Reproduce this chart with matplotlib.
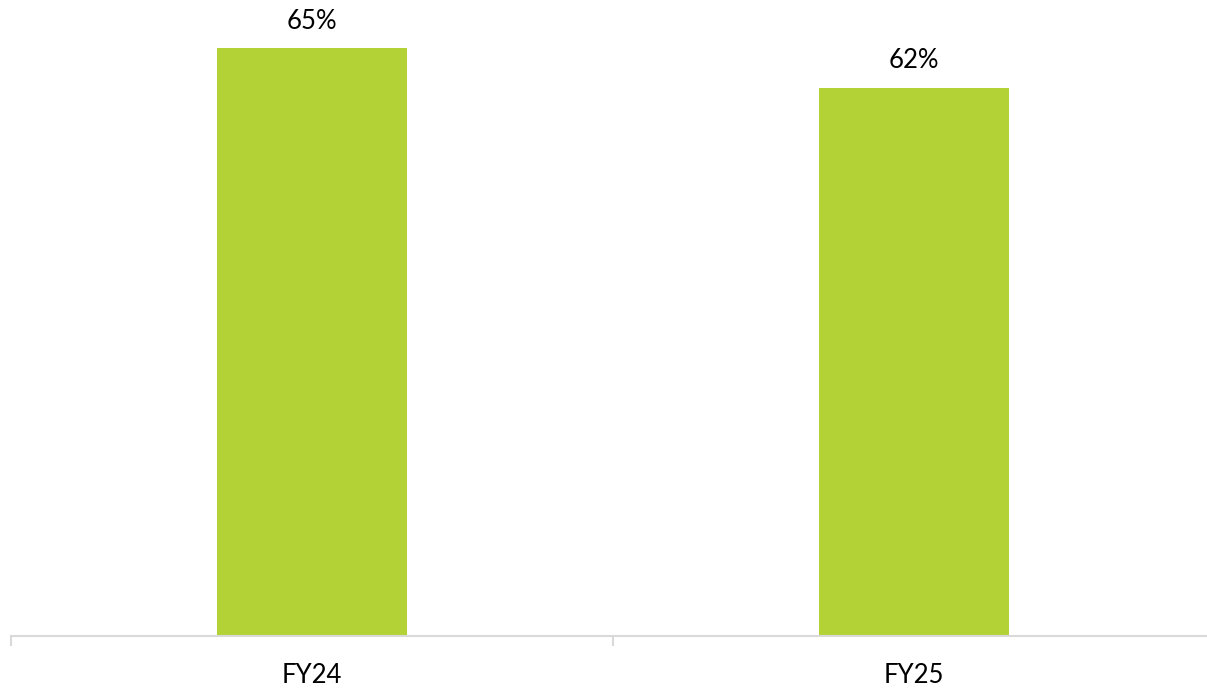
import matplotlib
matplotlib.use("Agg")
import matplotlib.pyplot as plt

categories = ["FY24", "FY25"]
values = [65, 62]
labels = ["65%", "62%"]

plt.rcParams['font.family'] = ['Lato', 'DejaVu Sans']

fig = plt.figure(figsize=(12.07, 6.88), dpi=100)
ax = fig.add_axes([11 / 1207, (688 - 635.5) / 688, 1204 / 1207, 635.5 / 688])

x = list(range(len(categories)))
bars = ax.bar(x, values, width=190 / 602, color="#B2D235", zorder=2)

for xi, v, lab in zip(x, values, labels):
    ax.annotate(lab, (xi, v), xytext=(0, 14), textcoords="offset points",
                ha="center", va="baseline", fontsize=18.5, color="#000000")

ax.set_xlim(-0.5, len(categories) - 0.5)
ax.set_ylim(20.9, 68.6)

# category boundaries get the small gray ticks, centers get the labels
ax.set_xticks([i - 0.5 for i in range(len(categories) + 1)])
ax.set_xticklabels([])
ax.set_xticks(x, minor=True)
ax.set_xticklabels(categories, minor=True, fontsize=18.5)
ax.tick_params(axis="x", which="major", length=7, width=1.5, color="#D9D9D9")
ax.tick_params(axis="x", which="minor", length=0, pad=20)
ax.set_yticks([])

for side in ["top", "right", "left"]:
    ax.spines[side].set_visible(False)
ax.spines["bottom"].set_color("#D9D9D9")
ax.spines["bottom"].set_linewidth(1.5)

fig.savefig("out.png", dpi=100)
